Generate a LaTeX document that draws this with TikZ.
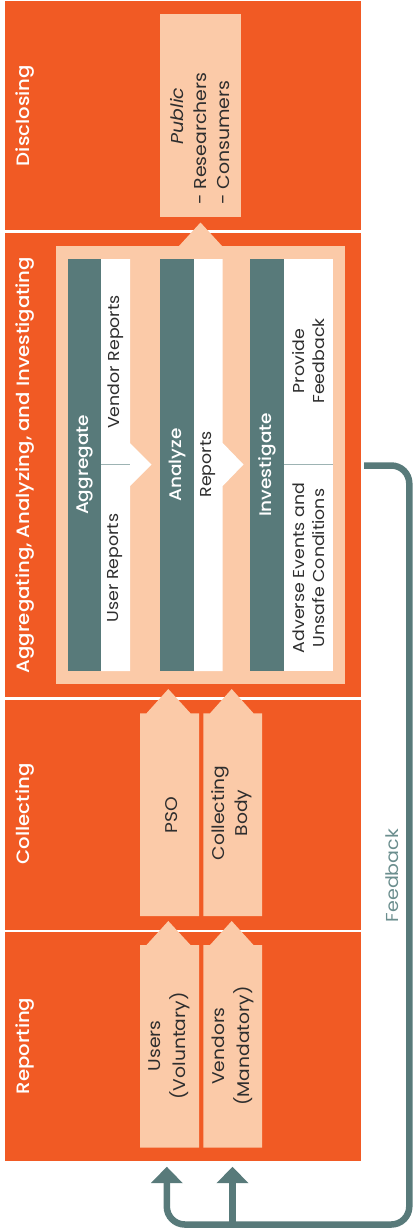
\documentclass[tikz,border=0pt]{standalone}
\usepackage{fontspec}
\setmainfont{Poppins}[FakeStretch=1.1]
\newfontfamily\medfont{Poppins Medium}[FakeStretch=1.1]
\usetikzlibrary{arrows.meta}
\definecolor{orng}{HTML}{F15A24}
\definecolor{peach}{HTML}{FBCAA8}
\definecolor{tealc}{HTML}{587A7A}
\definecolor{sepc}{HTML}{9DB3B3}
\definecolor{fbtext}{HTML}{6B8E8E}
\definecolor{txt}{HTML}{2E2E2E}
\tikzset{
  phase/.style={rotate=90, text=white, font=\medfont\fontsize{17.9}{20}\selectfont, inner sep=0pt},
  head/.style={rotate=90, text=white, font=\medfont\fontsize{16.8}{19}\selectfont, inner sep=0pt},
  sub/.style={rotate=90, text=txt, font=\fontsize{15.8}{20}\selectfont, inner sep=0pt, align=center},
  arrtext/.style={rotate=90, text=txt, font=\fontsize{17}{24}\selectfont, inner sep=0pt, align=center},
  pubtext/.style={rotate=90, text=txt, font=\fontsize{17.2}{24}\selectfont, inner sep=0pt},
  fbline/.style={tealc, line width=6.5pt, rounded corners=18pt, -{Triangle[width=31pt,length=16.5pt]}},
}
\begin{document}
\begin{tikzpicture}[x=1pt,y=-1pt]
\useasboundingbox (0,0) rectangle (415,1229);
% panels
\fill[orng] (5,1) rectangle (361,230);
\fill[orng] (5,233) rectangle (361,697);
\fill[orng] (5,699.5) rectangle (361,929.5);
\fill[orng] (5,932) rectangle (361,1160.5);
% disclosing box
\fill[peach] (160,14) rectangle (241,217);
% frame with arrow
\fill[peach] (56,246) rectangle (345,684);
\fill[peach] (178.5,246.5) -- (200.5,222.5) -- (222.5,246.5) -- cycle;
% columns
\fill[tealc] (68,259) rectangle (101,671);
\fill[white] (101,259) -- (130,259) -- (130,443) -- (151.5,464.5) -- (130,486) -- (130,671) -- (101,671) -- cycle;
\draw[sepc, line width=1pt] (101,464.5) -- (130,464.5);
\fill[tealc] (160,259) rectangle (194,671);
\fill[white] (194,259) -- (222.7,259) -- (222.7,443) -- (243.5,464.5) -- (222.7,486) -- (222.7,671) -- (194,671) -- cycle;
\fill[tealc] (250,259) rectangle (284,671);
\fill[white] (284,259) rectangle (333.3,671);
\draw[sepc, line width=1pt] (284,464.5) -- (333.3,464.5);
% collecting arrows
\fill[peach] (140,916) -- (140,713.3) -- (146.5,713.3) -- (168.3,689) -- (190.5,713.3) -- (199,713.3) -- (199,916) -- cycle;
\fill[peach] (203.3,916) -- (203.3,713.3) -- (210,713.3) -- (231.7,689) -- (253.5,713.3) -- (262,713.3) -- (262,916) -- cycle;
% reporting arrows
\fill[peach] (140,1147.7) -- (140,945) -- (146.5,945) -- (168.3,921) -- (190.5,945) -- (199,945) -- (199,1147.7) -- cycle;
\fill[peach] (203.3,1147.7) -- (203.3,945) -- (210,945) -- (231.7,921) -- (253.5,945) -- (262,945) -- (262,1147.7) -- cycle;
% phase labels
\node[phase] (lDisc) at (25,115.5) {Disclosing};
\node[phase] (lAgg) at (25,465) {Aggregating, Analyzing, and Investigating};
\node[phase] (lCol) at (25,814) {Collecting};
\node[phase] (lRep) at (25,1046) {Reporting};
% public
\node[pubtext, font=\itshape\fontsize{17.2}{24}\selectfont] (pub) at (176.7,116) {Public};
\node[pubtext, anchor=north west] (res) at (194,205) {- Researchers};
\node[pubtext, anchor=north west] (con) at (217,205) {- Consumers};
% column texts
\node[head] (hAgg) at (84.5,465) {Aggregate};
\node[head] (hAna) at (177,465) {Analyze};
\node[head] (hInv) at (267,465) {Investigate};
\node[sub] (vrep) at (115.5,362) {Vendor Reports};
\node[sub] (urep) at (115.5,568) {User Reports};
\node[sub] (rep) at (208.3,464.5) {Reports};
\node[sub] (prov) at (308.5,361) {Provide\\Feedback};
\node[sub] (adv) at (308.5,568) {Adverse Events and\\Unsafe Conditions};
% arrow texts
\node[arrtext] (pso) at (171.7,815) {PSO};
\node[arrtext, font=\fontsize{17}{23}\selectfont] (cbody) at (232,813) {Collecting\\Body};
\node[arrtext, font=\fontsize{17}{25}\selectfont] (users) at (169.5,1046) {Users\\(Voluntary)};
\node[arrtext, font=\fontsize{17}{25}\selectfont] (vend) at (232.5,1046) {Vendors\\(Mandatory)};
% feedback
\coordinate (fbstart) at (364,465.5);
\coordinate (fbright) at (409.3,465.5);
\coordinate (fbcorner) at (409.3,1224.5);
\coordinate (fbleft) at (166.8,1224.5);
\coordinate (fbjoin) at (232.5,1224.5);
\coordinate (uarr) at (166.8,1166.7);
\coordinate (varr) at (232.5,1166.7);
\draw[fbline] (fbstart) -- (fbright) -- (fbcorner) -- (fbleft) -- (uarr);
\draw[fbline] (fbjoin) -- (varr);
\node[rotate=90, text=fbtext, font=\fontsize{17.3}{18}\selectfont, inner sep=0pt] (fblabel) at (391.7,875.5) {Feedback};
\end{tikzpicture}
\end{document}
